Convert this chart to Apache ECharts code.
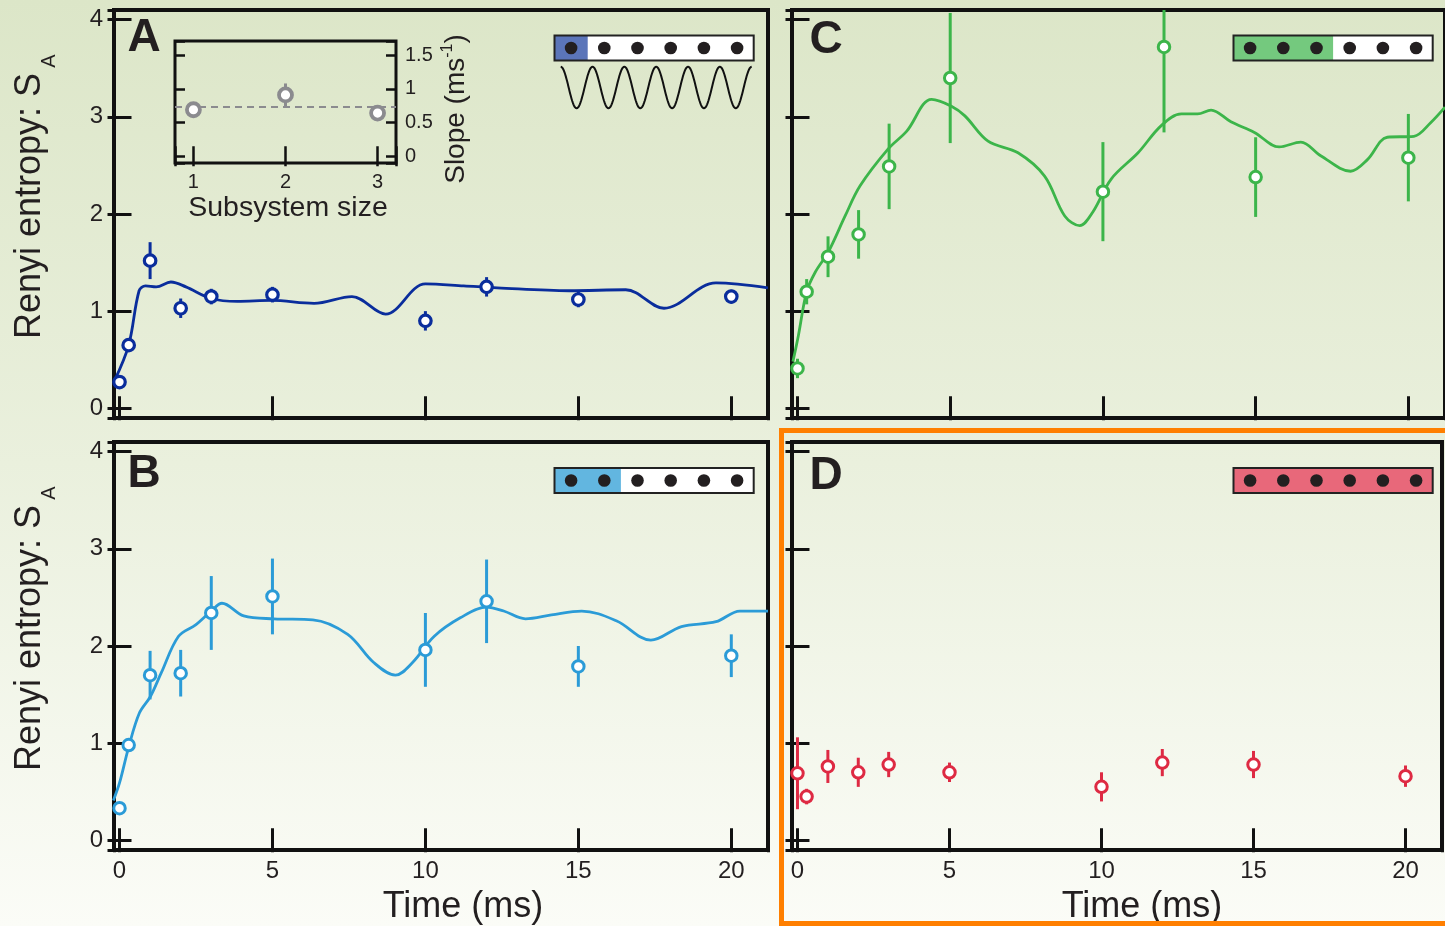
<!DOCTYPE html>
<html><head><meta charset="utf-8">
<script src="https://cdn.jsdelivr.net/npm/echarts@6/dist/echarts.min.js"></script>
<style>html,body{margin:0;padding:0;background:#fff}#c{width:1445px;height:926px}</style>
</head><body><div id="c"></div>
<script>
// ---------- data ----------
const timePoints = [0, 0.3, 1, 2, 3, 5, 10, 12, 15, 20];
const entropyA = [0.27, 0.65, 1.52, 1.03, 1.15, 1.17, 0.90, 1.25, 1.12, 1.15];
const errorA   = [0.05, 0.05, 0.19, 0.10, 0.08, 0.08, 0.10, 0.10, 0.08, 0.07];
const entropyB = [0.33, 0.98, 1.70, 1.72, 2.34, 2.51, 1.96, 2.46, 1.79, 1.90];
const errorB   = [0.05, 0.05, 0.25, 0.24, 0.38, 0.39, 0.38, 0.43, 0.21, 0.22];
const entropyC = [0.41, 1.20, 1.56, 1.79, 2.49, 3.40, 2.23, 3.72, 2.38, 2.58];
const errorC   = [0.10, 0.13, 0.21, 0.25, 0.44, 0.67, 0.51, 0.88, 0.41, 0.45];
const entropyD = [0.69, 0.45, 0.76, 0.70, 0.78, 0.70, 0.55, 0.80, 0.78, 0.66];
const errorD   = [0.37, 0.08, 0.17, 0.15, 0.13, 0.10, 0.15, 0.14, 0.14, 0.11];

const fitTimeA = [-0.17, 0.3, 0.64, 0.85, 1.2, 1.68, 2.17, 3.0, 3.85, 4.97, 6.36, 7.6, 8.7, 10.0, 11.25, 12.35, 14.7, 16.55, 17.8, 19.5, 21.2];
const fitA     = [0.28, 0.65, 1.21, 1.26, 1.25, 1.30, 1.25, 1.13, 1.10, 1.11, 1.08, 1.15, 0.97, 1.28, 1.26, 1.24, 1.21, 1.22, 1.03, 1.29, 1.24];
const fitTimeB = [-0.2, 0.0, 0.3, 0.65, 1.01, 1.36, 1.93, 2.5, 3.0, 3.35, 4.06, 5.05, 6.32, 7.46, 8.31, 9.02, 9.58, 10.29, 11.14, 11.99, 12.56, 13.27, 14.12, 15.11, 16.24, 17.37, 18.37, 19.5, 20.28, 21.2];
const fitB     = [0.41, 0.59, 0.96, 1.31, 1.48, 1.72, 2.10, 2.22, 2.36, 2.44, 2.31, 2.28, 2.27, 2.12, 1.83, 1.70, 1.83, 2.10, 2.29, 2.40, 2.36, 2.28, 2.32, 2.36, 2.26, 2.06, 2.20, 2.25, 2.36, 2.36];
const fitTimeC = [-0.15, 0.03, 0.3, 0.58, 1.01, 1.56, 2.05, 2.97, 3.57, 4.39, 5.04, 5.48, 6.24, 7.22, 8.09, 8.75, 9.24, 9.67, 10.27, 11.15, 11.91, 12.57, 13.1, 13.54, 14.19, 14.96, 15.77, 16.48, 17.13, 18.11, 18.66, 19.31, 20.18, 20.73, 21.2];
const fitC     = [0.48, 0.75, 1.20, 1.40, 1.61, 1.98, 2.29, 2.67, 2.85, 3.18, 3.11, 3.01, 2.75, 2.63, 2.39, 1.98, 1.88, 2.02, 2.36, 2.63, 2.91, 3.03, 3.03, 3.07, 2.95, 2.84, 2.69, 2.74, 2.60, 2.44, 2.56, 2.79, 2.80, 2.94, 3.10];

const subsystemSize = [1, 2, 3];
const slope = [0.69, 0.91, 0.64];
const slopeErr = [0.03, 0.17, 0.03];
const meanSlope = 0.74;

const timeTickLabels = [0, 5, 10, 15, 20];
const entropyTickLabels = [0, 1, 2, 3, 4];
const sizeTickLabels = [1, 2, 3];
const slopeTickLabels = [0, 0.5, 1, 1.5];

// ---------- style ----------
const FONT = 'Liberation Sans, Arial, Helvetica, sans-serif';
const INK = '#231f20';
const COL = {A: '#0a2d9c', B: '#2b9bd7', C: '#3cb54a', D: '#de2a43', inset: '#8b8b8f'};

const grids = [
  {left: 114, top: 10, width: 654, height: 408},   // A
  {left: 792, top: 10, width: 655, height: 408},   // C
  {left: 114, top: 442, width: 654, height: 408},  // B
  {left: 792, top: 442, width: 655, height: 408},  // D
  {left: 175, top: 41, width: 221, height: 122}    // inset
].map(g => Object.assign({show: true, borderColor: '#111', borderWidth: 4, backgroundColor: 'transparent', containLabel: false}, g));
grids[4].borderWidth = 3;

function fmt(list) { return v => list.some(t => Math.abs(t - v) < 1e-6) ? String(v) : ''; }

function tick(len, w) { return {show: true, inside: true, length: len, lineStyle: {color: '#111', width: w}}; }

function timeAxis(g, pos, labels) {
  return {type: 'value', gridIndex: g, position: pos, min: -0.18, max: 21.2, minInterval: 5, maxInterval: 5,
    axisLine: {show: false}, axisTick: tick(12, 3), splitLine: {show: false},
    axisLabel: {show: labels, margin: 9, fontSize: 24, color: INK, fontFamily: FONT, formatter: fmt(timeTickLabels)}};
}
function entAxis(g, pos, labels) {
  return {type: 'value', gridIndex: g, position: pos, min: -0.1, max: 4.1, minInterval: 1, maxInterval: 1,
    axisLine: {show: false}, axisTick: tick(12, 3), splitLine: {show: false},
    axisLabel: {show: labels, margin: 11, fontSize: 24, color: INK, fontFamily: FONT, formatter: fmt(entropyTickLabels)}};
}

const xAxis = [
  timeAxis(0, 'bottom', false), timeAxis(0, 'top', false),
  timeAxis(1, 'bottom', false), timeAxis(1, 'top', false),
  timeAxis(2, 'bottom', true), timeAxis(2, 'top', false),
  timeAxis(3, 'bottom', true), timeAxis(3, 'top', false),
  {type: 'value', gridIndex: 4, position: 'bottom', min: 0.8, max: 3.2, minInterval: 1, maxInterval: 1,
   axisLine: {show: false}, axisTick: tick(10, 2.5), splitLine: {show: false},
   axisLabel: {show: true, margin: 9, fontSize: 20, color: INK, fontFamily: FONT, formatter: fmt(sizeTickLabels)}},
  {type: 'value', gridIndex: 4, position: 'top', min: 0.8, max: 3.2, minInterval: 1, maxInterval: 1,
   axisLine: {show: false}, axisTick: tick(10, 2.5), splitLine: {show: false}, axisLabel: {show: false}}
];
const yAxis = [
  entAxis(0, 'left', true), entAxis(0, 'right', false),
  entAxis(1, 'left', false), entAxis(1, 'right', false),
  entAxis(2, 'left', true), entAxis(2, 'right', false),
  entAxis(3, 'left', false), entAxis(3, 'right', false),
  {type: 'value', gridIndex: 4, position: 'left', min: -0.1, max: 1.71, minInterval: 0.5, maxInterval: 0.5,
   axisLine: {show: false}, axisTick: tick(10, 2.5), splitLine: {show: false}, axisLabel: {show: false}},
  {type: 'value', gridIndex: 4, position: 'right', min: -0.1, max: 1.71, minInterval: 0.5, maxInterval: 0.5,
   axisLine: {show: false}, axisTick: tick(10, 2.5), splitLine: {show: false},
   axisLabel: {show: true, margin: 9, fontSize: 20, color: INK, fontFamily: FONT, formatter: fmt(slopeTickLabels)}}
];

function errSeries(xs, ys, es, color, ai, lw) {
  return {type: 'custom', xAxisIndex: ai, yAxisIndex: ai, z: 3, silent: true,
    data: xs.map((x, i) => [x, ys[i] - es[i], ys[i] + es[i]]),
    renderItem: (params, api) => {
      const cs = params.coordSys;
      const lo = api.coord([api.value(0), api.value(1)]);
      const hi = api.coord([api.value(0), api.value(2)]);
      const clamp = y => Math.max(cs.y, Math.min(cs.y + cs.height, y));
      return {type: 'line', shape: {x1: lo[0], y1: clamp(lo[1]), x2: hi[0], y2: clamp(hi[1])},
        style: {stroke: color, lineWidth: lw}};
    }};
}
function ptSeries(xs, ys, color, ai, size, bw) {
  return {type: 'scatter', xAxisIndex: ai, yAxisIndex: ai, z: 5, silent: true,
    symbol: 'circle', symbolSize: size,
    itemStyle: {color: '#fff', borderColor: color, borderWidth: bw, opacity: 1},
    data: xs.map((x, i) => [x, ys[i]])};
}
function fitSeries(xs, ys, color, ai) {
  return {type: 'line', xAxisIndex: ai, yAxisIndex: ai, z: 4, silent: true, smooth: 0.35,
    symbol: 'none', clip: true, lineStyle: {color: color, width: 2.8},
    data: xs.map((x, i) => [x, ys[i]])};
}

const series = [
  fitSeries(fitTimeA, fitA, COL.A, 0),
  errSeries(timePoints, entropyA, errorA, COL.A, 0, 3),
  ptSeries(timePoints, entropyA, COL.A, 0, 11.5, 3.2),
  fitSeries(fitTimeC, fitC, COL.C, 2),
  errSeries(timePoints, entropyC, errorC, COL.C, 2, 3),
  ptSeries(timePoints, entropyC, COL.C, 2, 11.5, 3),
  fitSeries(fitTimeB, fitB, COL.B, 4),
  errSeries(timePoints, entropyB, errorB, COL.B, 4, 3),
  ptSeries(timePoints, entropyB, COL.B, 4, 11.5, 3),
  errSeries(timePoints, entropyD, errorD, COL.D, 6, 3),
  ptSeries(timePoints, entropyD, COL.D, 6, 11.5, 3),
  errSeries(subsystemSize, slope, slopeErr, COL.inset, 8, 3),
  Object.assign(ptSeries(subsystemSize, slope, COL.inset, 8, 13, 3.8), {
    markLine: {silent: true, symbol: 'none', animation: false, label: {show: false},
      lineStyle: {type: [7, 5], color: COL.inset, width: 2},
      data: [{yAxis: meanSlope}]}
  })
];

// ---------- decorations ----------
const graphic = [];
function txt(x, y, text, font, extra) {
  graphic.push(Object.assign({type: 'text', x: x, y: y, z: 50, silent: true,
    style: Object.assign({text: text, font: font, fill: INK, textAlign: 'center', textVerticalAlign: 'middle', verticalAlign: 'middle', align: 'center'}, extra && extra.style || {})},
    extra && extra.el || {}));
}
// panel letters
[['A', 144, 38], ['B', 144, 474], ['C', 826, 40], ['D', 826, 476]].forEach(l => txt(l[1], l[2], l[0], 'bold 46px ' + FONT));
// y titles
[206, 638].forEach(cy => {
  txt(30, cy, 'Renyi entropy: S', '36px ' + FONT, {el: {rotation: Math.PI / 2}});
  txt(49, cy - 145, 'A', '20px ' + FONT, {el: {rotation: Math.PI / 2}});
});
// x titles
txt(463, 907, 'Time (ms)', '36px ' + FONT);
txt(1142, 907, 'Time (ms)', '36px ' + FONT);
// inset titles
txt(288, 208, 'Subsystem size', '28.5px ' + FONT);
graphic.push({type: 'text', x: 455, y: 109, rotation: Math.PI / 2, z: 50, silent: true,
  style: {text: '{m|Slope (ms}{s|-1}{m|)}', fill: INK, textAlign: 'center', textVerticalAlign: 'middle', align: 'center', verticalAlign: 'middle',
    rich: {m: {fontSize: 28, fontFamily: FONT, fill: INK, color: INK, lineHeight: 30, verticalAlign: 'bottom'},
           s: {fontSize: 16, fontFamily: FONT, fill: INK, color: INK, lineHeight: 16, verticalAlign: 'top'}}}});

// legend boxes
function legendBox(x, y, nColored, color) {
  const cw = 33.2, h = 25;
  graphic.push({type: 'rect', z: 40, silent: true, shape: {x: x, y: y, width: cw * 6, height: h}, style: {fill: '#fff', stroke: null}});
  graphic.push({type: 'rect', z: 41, silent: true, shape: {x: x, y: y, width: cw * nColored, height: h}, style: {fill: color, stroke: null}});
  graphic.push({type: 'rect', z: 42, silent: true, shape: {x: x, y: y, width: cw * 6, height: h}, style: {fill: null, stroke: '#222', lineWidth: 2}});
  for (let i = 0; i < 6; i++) {
    graphic.push({type: 'circle', z: 43, silent: true, shape: {cx: x + cw * (i + 0.5), cy: y + h / 2, r: 6.3}, style: {fill: '#231f20'}});
  }
}
legendBox(554.5, 35.5, 1, '#5b75b9');
legendBox(554.5, 468, 2, '#62b6e0');
legendBox(1233.5, 35.5, 3, '#74c97e');
legendBox(1233.5, 468, 6, '#e8687a');
// lattice wave icon
const wave = [];
for (let i = 0; i <= 300; i++) {
  wave.push([560.7 + i * 191 / 300, 87.5 - 20.8 * Math.cos(i / 300 * 12 * Math.PI)]);
}
graphic.push({type: 'polyline', z: 43, silent: true, shape: {points: wave}, style: {stroke: '#111', lineWidth: 2, fill: null}});
// orange highlight frame
graphic.push({type: 'rect', z: 60, silent: true, shape: {x: 781.5, y: 430.5, width: 700, height: 493}, style: {fill: null, stroke: '#ff7f00', lineWidth: 5}});

const chart = echarts.init(document.getElementById('c'), null, {renderer: 'canvas'});
chart.setOption({
  animation: false,
  backgroundColor: {type: 'linear', x: 0, y: 0, x2: 0, y2: 1,
    colorStops: [{offset: 0, color: '#dce6c8'}, {offset: 0.5, color: '#eaf0dd'}, {offset: 1, color: '#fbfcf7'}]},
  grid: grids, xAxis: xAxis, yAxis: yAxis, series: series, graphic: graphic
});
</script></body></html>
